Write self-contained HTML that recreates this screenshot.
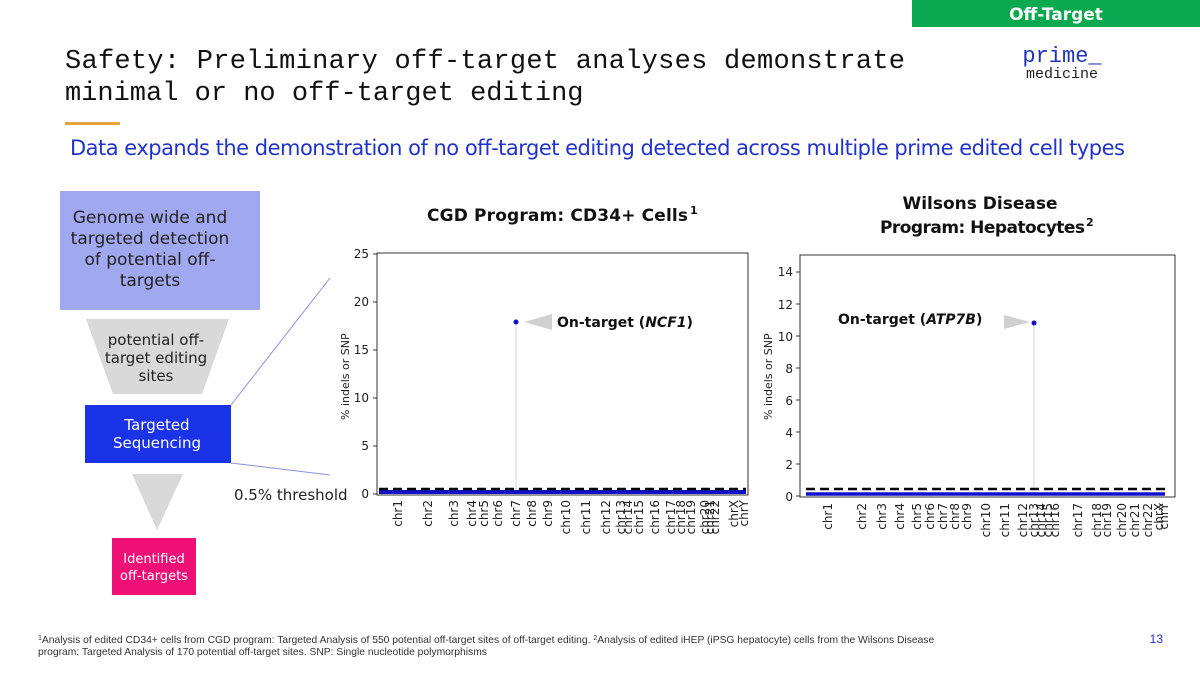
<!DOCTYPE html>
<html><head><meta charset="utf-8"><style>
html,body{margin:0;padding:0;background:#fff;}
svg{display:block;}
</style></head><body>
<svg width="1200" height="675" viewBox="0 0 1200 675" xmlns="http://www.w3.org/2000/svg" font-family="Liberation Sans, DejaVu Sans, sans-serif">
<rect width="1200" height="675" fill="#fff"/>
<!-- tag -->
<rect x="912" y="0" width="288" height="27" fill="#0aa84f"/>
<text x="1056" y="20" text-anchor="middle" font-family="DejaVu Sans, sans-serif" font-weight="bold" font-size="17" fill="#fff">Off-Target</text>
<!-- logo -->
<text x="1062" y="62" text-anchor="middle" font-family="Liberation Mono, monospace" font-size="22" fill="#2233bb">prime_</text>
<text x="1062" y="78" text-anchor="middle" font-family="Liberation Mono, monospace" font-size="15" fill="#222">medicine</text>
<!-- title -->
<text x="65" y="68" font-family="Liberation Mono, monospace" font-size="27" fill="#111" textLength="840">Safety: Preliminary off-target analyses demonstrate</text>
<text x="65" y="100" font-family="Liberation Mono, monospace" font-size="27" fill="#111">minimal or no off-target editing</text>
<rect x="65" y="122" width="55" height="3" fill="#e8a23a"/>
<text x="70" y="155" font-size="21" fill="#2233cc" textLength="1055" font-family="DejaVu Sans, sans-serif">Data expands the demonstration of no off-target editing detected across multiple prime edited cell types</text>

<!-- left flow -->
<rect x="60" y="191" width="200" height="119" fill="#a0a8f0"/>
<g font-family="DejaVu Sans, sans-serif" font-size="17" fill="#222" text-anchor="middle">
<text x="150" y="223">Genome wide and</text>
<text x="150" y="244">targeted detection</text>
<text x="150" y="265">of potential off-</text>
<text x="150" y="286">targets</text>
</g>
<polygon points="86,319 229,319 202,394 113,394" fill="#d9d9d9"/>
<g font-family="DejaVu Sans, sans-serif" font-size="15" fill="#222" text-anchor="middle">
<text x="156" y="345">potential off-</text>
<text x="156" y="363">target editing</text>
<text x="156" y="381">sites</text>
</g>
<rect x="85" y="405" width="146" height="58" fill="#1a33e6"/>
<g font-family="DejaVu Sans, sans-serif" font-size="15" fill="#fff" text-anchor="middle">
<text x="157" y="430">Targeted</text>
<text x="157" y="448">Sequencing</text>
</g>
<line x1="231" y1="405" x2="330" y2="278" stroke="#8a90e0" stroke-width="1"/>
<line x1="231" y1="463" x2="330" y2="475" stroke="#8a90e0" stroke-width="1"/>
<polygon points="132,474 183,474 157,530" fill="#d9d9d9"/>
<rect x="112" y="538" width="84" height="57" fill="#ee1077"/>
<g font-family="DejaVu Sans, sans-serif" font-size="13" fill="#fff" text-anchor="middle">
<text x="154" y="563">Identified</text>
<text x="154" y="580">off-targets</text>
</g>
<text x="234" y="500" font-family="DejaVu Sans, sans-serif" font-size="15" fill="#222">0.5% threshold</text>

<!-- chart 1 -->
<text x="427" y="221" font-family="DejaVu Sans, sans-serif" font-weight="bold" font-size="17" fill="#111" textLength="261">CGD Program: CD34+ Cells</text>
<text x="690" y="214" font-family="DejaVu Sans, sans-serif" font-weight="bold" font-size="11" fill="#111">1</text>
<rect x="377" y="253" width="371" height="242" fill="none" stroke="#333" stroke-width="1"/>
<g font-family="DejaVu Sans, sans-serif" font-size="12" fill="#222" text-anchor="end">
<text x="369" y="258">25</text><text x="369" y="306">20</text><text x="369" y="354">15</text>
<text x="369" y="402">10</text><text x="369" y="450">5</text><text x="369" y="498">0</text>
</g>
<g stroke="#333"><line x1="373" x2="377" y1="254" y2="254"/><line x1="373" x2="377" y1="302" y2="302"/><line x1="373" x2="377" y1="350" y2="350"/><line x1="373" x2="377" y1="398" y2="398"/><line x1="373" x2="377" y1="446" y2="446"/><line x1="373" x2="377" y1="494" y2="494"/></g>
<text transform="translate(349,420) rotate(-90)" font-family="DejaVu Sans, sans-serif" font-size="11" fill="#222">% indels or SNP</text>
<line x1="516" y1="321" x2="516" y2="494" stroke="#c8d0f5" stroke-width="1"/>
<line x1="379" y1="492" x2="746" y2="492" stroke="#1010cc" stroke-width="4"/>
<line x1="379" y1="489" x2="746" y2="489" stroke="#000" stroke-width="2.5" stroke-dasharray="9,5"/>
<circle cx="516" cy="322" r="2.5" fill="#1010cc"/>
<polygon points="524,322 552,314 552,330" fill="#d0d0d0"/>
<text x="557" y="327" font-family="DejaVu Sans, sans-serif" font-weight="bold" font-size="14" fill="#111">On-target (<tspan font-style="italic">NCF1</tspan>)</text>
<g font-family="DejaVu Sans, sans-serif" font-size="12" fill="#222" text-anchor="end">
<text transform="translate(402,500) rotate(-90)">chr1</text>
<text transform="translate(432,500) rotate(-90)">chr2</text>
<text transform="translate(458,500) rotate(-90)">chr3</text>
<text transform="translate(476,500) rotate(-90)">chr4</text>
<text transform="translate(488,500) rotate(-90)">chr5</text>
<text transform="translate(502,500) rotate(-90)">chr6</text>
<text transform="translate(520,500) rotate(-90)">chr7</text>
<text transform="translate(536,500) rotate(-90)">chr8</text>
<text transform="translate(552,500) rotate(-90)">chr9</text>
<text transform="translate(570,500) rotate(-90)">chr10</text>
<text transform="translate(590,500) rotate(-90)">chr11</text>
<text transform="translate(610,500) rotate(-90)">chr12</text>
<text transform="translate(625,500) rotate(-90)">chr13</text>
<text transform="translate(632,500) rotate(-90)">chr14</text>
<text transform="translate(643,500) rotate(-90)">chr15</text>
<text transform="translate(659,500) rotate(-90)">chr16</text>
<text transform="translate(675,500) rotate(-90)">chr17</text>
<text transform="translate(685,500) rotate(-90)">chr18</text>
<text transform="translate(695,500) rotate(-90)">chr19</text>
<text transform="translate(709,500) rotate(-90)">chr20</text>
<text transform="translate(714,500) rotate(-90)">chr21</text>
<text transform="translate(719,500) rotate(-90)">chr22</text>
<text transform="translate(738,500) rotate(-90)">chrX</text>
<text transform="translate(748,500) rotate(-90)">chrY</text>
</g>

<!-- chart 2 -->
<text x="980" y="209" text-anchor="middle" font-family="DejaVu Sans, sans-serif" font-weight="bold" font-size="17" fill="#111">Wilsons Disease</text>
<text x="880" y="233" font-family="DejaVu Sans, sans-serif" font-weight="bold" font-size="17" fill="#111" textLength="205">Program: Hepatocytes</text>
<text x="1086" y="226" font-family="DejaVu Sans, sans-serif" font-weight="bold" font-size="11" fill="#111">2</text>
<rect x="800" y="255" width="375" height="242" fill="none" stroke="#333" stroke-width="1"/>
<g font-family="DejaVu Sans, sans-serif" font-size="12" fill="#222" text-anchor="end">
<text x="793" y="276">14</text><text x="793" y="309">12</text><text x="793" y="341">10</text>
<text x="793" y="373">8</text><text x="793" y="405">6</text><text x="793" y="437">4</text>
<text x="793" y="469">2</text><text x="793" y="501">0</text>
</g>
<g stroke="#333"><line x1="796" x2="800" y1="272" y2="272"/><line x1="796" x2="800" y1="304" y2="304"/><line x1="796" x2="800" y1="336" y2="336"/><line x1="796" x2="800" y1="368" y2="368"/><line x1="796" x2="800" y1="400" y2="400"/><line x1="796" x2="800" y1="432" y2="432"/><line x1="796" x2="800" y1="464" y2="464"/><line x1="796" x2="800" y1="496" y2="496"/></g>
<text transform="translate(772,420) rotate(-90)" font-family="DejaVu Sans, sans-serif" font-size="11" fill="#222">% indels or SNP</text>
<line x1="1034" y1="323" x2="1034" y2="489" stroke="#c8d0f5" stroke-width="1"/>
<line x1="806" y1="494" x2="1165" y2="494" stroke="#1010cc" stroke-width="3.5"/>
<line x1="806" y1="489" x2="1166" y2="489" stroke="#000" stroke-width="2.5" stroke-dasharray="9,5"/>
<circle cx="1034" cy="323" r="2.5" fill="#1010cc"/>
<polygon points="1004,315 1004,329 1030,322" fill="#d0d0d0"/>
<text x="838" y="324" font-family="DejaVu Sans, sans-serif" font-weight="bold" font-size="14" fill="#111">On-target (<tspan font-style="italic">ATP7B</tspan>)</text>
<g font-family="DejaVu Sans, sans-serif" font-size="12" fill="#222" text-anchor="end">
<text transform="translate(832,503) rotate(-90)">chr1</text>
<text transform="translate(866,503) rotate(-90)">chr2</text>
<text transform="translate(886,503) rotate(-90)">chr3</text>
<text transform="translate(904,503) rotate(-90)">chr4</text>
<text transform="translate(921,503) rotate(-90)">chr5</text>
<text transform="translate(934,503) rotate(-90)">chr6</text>
<text transform="translate(947,503) rotate(-90)">chr7</text>
<text transform="translate(959,503) rotate(-90)">chr8</text>
<text transform="translate(971,503) rotate(-90)">chr9</text>
<text transform="translate(990,503) rotate(-90)">chr10</text>
<text transform="translate(1009,503) rotate(-90)">chr11</text>
<text transform="translate(1027,503) rotate(-90)">chr12</text>
<text transform="translate(1038,503) rotate(-90)">chr13</text>
<text transform="translate(1045,503) rotate(-90)">chr14</text>
<text transform="translate(1052,503) rotate(-90)">chr15</text>
<text transform="translate(1059,503) rotate(-90)">chr16</text>
<text transform="translate(1082,503) rotate(-90)">chr17</text>
<text transform="translate(1101,503) rotate(-90)">chr18</text>
<text transform="translate(1111,503) rotate(-90)">chr19</text>
<text transform="translate(1126,503) rotate(-90)">chr20</text>
<text transform="translate(1139,503) rotate(-90)">chr21</text>
<text transform="translate(1152,503) rotate(-90)">chr22</text>
<text transform="translate(1163,503) rotate(-90)">chrX</text>
<text transform="translate(1168,503) rotate(-90)">chrY</text>
</g>

<!-- footnote -->
<g font-family="Liberation Sans, sans-serif" font-size="10.3" fill="#333">
<text x="38" y="643"><tspan font-size="7" dy="-3">1</tspan><tspan dy="3">Analysis of edited CD34+ cells from CGD program: Targeted Analysis of 550 potential off-target sites of off-target editing. </tspan><tspan font-size="7" dy="-3">2</tspan><tspan dy="3">Analysis of edited iHEP (iPSG hepatocyte) cells from the Wilsons Disease</tspan></text>
<text x="38" y="655">program: Targeted Analysis of 170 potential off-target sites.  SNP: Single nucleotide polymorphisms</text>
</g>
<text x="1163" y="643" text-anchor="end" font-size="12" fill="#2233cc">13</text>
</svg>
</body></html>
